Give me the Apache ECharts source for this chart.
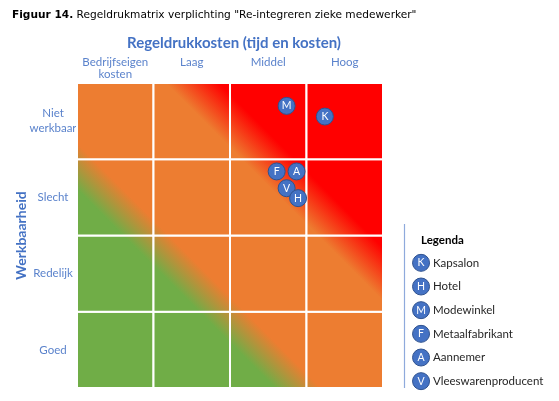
<!DOCTYPE html>
<html>
<head>
<meta charset="UTF-8">
<title>Regeldrukmatrix</title>
<script src="https://cdn.jsdelivr.net/npm/echarts@6/dist/echarts.min.js"></script>
<style>
  html, body { margin: 0; padding: 0; background: #fff; }
</style>
</head>
<body>
	<div id="main" style="width: 559px; height: 401px;"></div>
	<script type="text/javascript">
		// categorieen van de matrix
		var costLevels = ['Bedrijfseigen\nkosten', 'Laag', 'Middel', 'Hoog'];
		var workLevels = ['Goed', 'Redelijk', 'Slecht', 'Niet\nwerkbaar'];

		// bedrijven in de matrix (0..4 langs beide assen)
		var pointCodes = ['M', 'K', 'F', 'A', 'V', 'H'];
		var costScores = [2.74, 3.24, 2.61, 2.87, 2.74, 2.89];
		var workScores = [3.70, 3.56, 2.84, 2.84, 2.62, 2.49];

		// legenda
		var legendCodes = ['K', 'H', 'M', 'F', 'A', 'V'];
		var legendNames = ['Kapsalon', 'Hotel', 'Modewinkel', 'Metaalfabrikant', 'Aannemer', 'Vleeswarenproducent'];

		var GREEN = '#70AD47', ORANGE = '#ED7D31', RED = '#FF0000', BLUE = '#4472C4';
		var fieldStops = [
			{ offset: 0, color: GREEN },
			{ offset: 0.325, color: GREEN },
			{ offset: 0.4, color: ORANGE },
			{ offset: 0.644, color: ORANGE },
			{ offset: 0.731, color: RED },
			{ offset: 1, color: RED }
		];

		var cells = [];
		costLevels.forEach(function (c, i) {
			workLevels.forEach(function (w, j) {
				cells.push([i, j]);
			});
		});

		function renderCell(params, api) {
			var c = api.value(0), r = api.value(1);
			var p0 = api.coord([c, r + 1]);
			var p1 = api.coord([c + 1, r]);
			var cs = params.coordSys;
			return {
				type: 'rect',
				shape: { x: p0[0], y: p0[1], width: p1[0] - p0[0], height: p1[1] - p0[1] },
				style: {
					fill: new echarts.graphic.LinearGradient(cs.x, cs.y + cs.height, cs.x + cs.width, cs.y, fieldStops, true),
					stroke: '#fff',
					lineWidth: 2
				}
			};
		}

		var labelFont = 'Lato, "Open Sans", sans-serif';
		var bubble = {
			symbol: 'circle',
			symbolSize: 17,
			itemStyle: { color: BLUE, borderColor: '#2F528F', borderWidth: 1, opacity: 1 },
			label: {
				show: true, position: 'inside', color: '#fff', fontSize: 10.5, fontFamily: labelFont,
				formatter: function (p) { return p.value[2]; }
			},
			emphasis: { disabled: true }
		};

		var myChart = echarts.init(document.getElementById('main'));
		var option = {
			animation: false,
			title: [{
				left: 7, top: 5,
				text: '{b|Figuur 14.} Regeldrukmatrix verplichting "Re-integreren zieke medewerker"',
				textStyle: {
					fontFamily: '"DejaVu Sans", Verdana, sans-serif', fontSize: 10.6, fontWeight: 'normal', color: '#000',
					rich: { b: { fontFamily: '"DejaVu Sans", Verdana, sans-serif', fontSize: 10.6, fontWeight: 'bold', color: '#000' } }
				}
			}, {
				left: 416, top: 229,
				text: 'Legenda',
				textStyle: { fontFamily: labelFont, fontSize: 11.5, fontWeight: 'bold', color: '#000' }
			}],
			grid: [
				{ left: 77, right: 176, top: 83, bottom: 13, outerBoundsMode: 'none' },
				{ left: 404, width: 24, top: 251, height: 142, outerBoundsMode: 'none' }
			],
			xAxis: [{
				type: 'category', position: 'top', data: costLevels,
				axisLine: { show: false }, axisTick: { show: false }, splitLine: { show: false },
				axisLabel: { interval: 0, margin: 27, verticalAlign: 'top', lineHeight: 12, fontSize: 11.5, color: '#5B83CC', fontFamily: labelFont },
				name: 'Regeldrukkosten (tijd en kosten)', nameLocation: 'middle', nameGap: 32,
				nameTextStyle: { fontSize: 15, fontWeight: 'bold', color: BLUE, fontFamily: labelFont, padding: [0, 0, 0, 8] }
			}, {
				type: 'value', min: 0, max: 4, show: false
			}, {
				gridIndex: 1, type: 'value', min: 0, max: 1, show: false
			}],
			yAxis: [{
				type: 'category', data: workLevels,
				axisLine: { show: false }, axisTick: { show: false }, splitLine: { show: false },
				axisLabel: { interval: 0, margin: 24, align: 'center', lineHeight: 15, fontSize: 11.5, color: '#5B83CC', fontFamily: labelFont },
				name: 'Werkbaarheid', nameLocation: 'middle', nameGap: 49, nameRotate: 90, nameMoveOverlap: false,
				nameTextStyle: { fontSize: 14, fontWeight: 'bold', color: BLUE, fontFamily: labelFont }
			}, {
				type: 'value', min: 0, max: 4, show: false
			}, {
				gridIndex: 1, type: 'category', position: 'right', inverse: true, data: legendNames,
				axisLine: { show: false }, axisTick: { show: false }, splitLine: { show: false },
				axisLabel: { interval: 0, margin: 5, fontSize: 11.5, color: '#262626', fontFamily: labelFont }
			}],
			graphic: [{
				type: 'line',
				shape: { x1: 404.5, y1: 224, x2: 404.5, y2: 388 },
				style: { stroke: '#8FAADC', lineWidth: 1.2 }
			}],
			series: [{
				type: 'custom',
				xAxisIndex: 1, yAxisIndex: 1,
				renderItem: renderCell,
				data: cells,
				silent: true,
				z: 1
			}, Object.assign({
				type: 'scatter',
				xAxisIndex: 1, yAxisIndex: 1,
				data: pointCodes.map(function (code, i) { return [costScores[i], workScores[i], code]; }),
				z: 3
			}, bubble), Object.assign({
				type: 'scatter',
				xAxisIndex: 2, yAxisIndex: 2,
				data: legendCodes.map(function (code, i) { return [0.71, i, code]; }),
				z: 3
			}, bubble)]
		};
		myChart.setOption(option);
	</script>
</body>
</html>
